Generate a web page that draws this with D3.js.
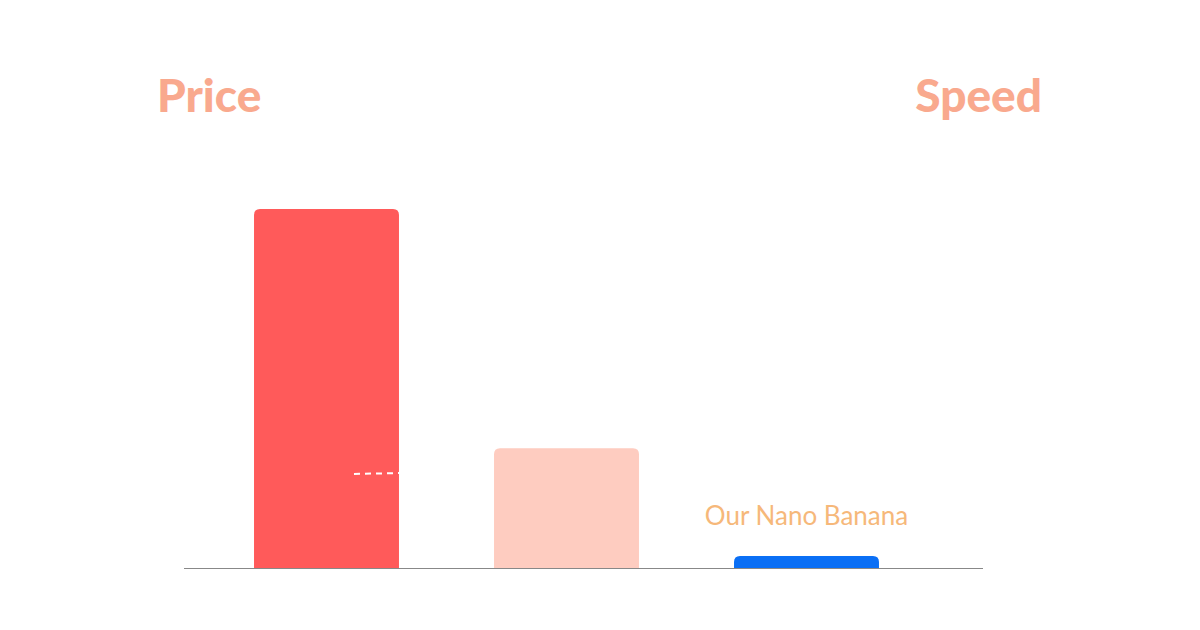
<!DOCTYPE html>
<html><head><meta charset="utf-8">
<script src="https://cdn.jsdelivr.net/npm/d3@7"></script>
<style>body{margin:0;background:#fff}</style>
</head><body><svg class="canva" width="1200" height="630"></svg>
<script>
const categories = ["Competitor A", "Competitor B", "Our Nano Banana"];
const values = [30, 10, 1];
const colors = ["#FF5A5A", "#FECCC0", "#0A6FF5"];

const svg = d3.select(".canva");
const base = 568;

const x = d3.scaleBand().domain(categories)
            .range([206.5, 926.5])
            .paddingInner(0.396)
            .paddingOuter(0.198);
const y = d3.scaleLinear().domain([0, 30]).range([base, 209]);

// bars: rounded top, square bottom
svg.selectAll("path.bar")
   .data(values)
   .enter().append("path")
   .attr("class", "bar")
   .attr("fill", (d, i) => colors[i])
   .attr("d", (d, i) => {
       const x0 = x(categories[i]), w = x.bandwidth(), t = y(d), r = 6;
       return `M${x0},${base}V${t + r}Q${x0},${t} ${x0 + r},${t}H${x0 + w - r}Q${x0 + w},${t} ${x0 + w},${t + r}V${base}Z`;
   });

// faint dashed line across first bar
svg.append("line")
   .attr("x1", 354).attr("x2", 399)
   .attr("y1", 474).attr("y2", 473)
   .attr("stroke", "#fff").attr("stroke-width", 2)
   .attr("stroke-dasharray", "6,5");

// baseline
svg.append("line")
   .attr("x1", 184).attr("x2", 983)
   .attr("y1", base + 0.5).attr("y2", base + 0.5)
   .attr("stroke", "#888").attr("stroke-width", 1);

svg.append("text")
   .attr("x", x(categories[2]) + x.bandwidth() / 2)
   .attr("y", 525)
   .attr("text-anchor", "middle")
   .attr("font-family", "Lato, sans-serif")
   .attr("font-size", 26)
   .attr("fill", "#F6B87A")
   .text(categories[2]);

svg.append("text")
   .attr("x", 157).attr("y", 112)
   .attr("font-family", "Lato, sans-serif").attr("font-weight", 900)
   .attr("font-size", 46).attr("fill", "#F9A98E")
   .text("Price");

svg.append("text")
   .attr("x", 1042).attr("y", 112)
   .attr("text-anchor", "end")
   .attr("font-family", "Lato, sans-serif").attr("font-weight", 900)
   .attr("font-size", 46).attr("fill", "#F9A98E")
   .text("Speed");
</script>
</body></html>
